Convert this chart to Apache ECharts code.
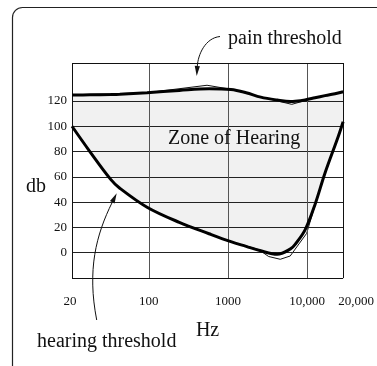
<!DOCTYPE html>
<html>
<head>
<meta charset="utf-8">
<script src="https://cdn.jsdelivr.net/npm/echarts@6/dist/echarts.min.js"></script>
<style>
  html, body { margin: 0; padding: 0; background: #fff; }
  #chart { width: 377px; height: 366px; }
</style>
</head>
<body>
<div id="chart"></div>
<script>
// Frequency samples (Hz) shared by both threshold curves
const freqHz = [10.7, 18, 33, 43, 95, 243, 577, 1090, 1700, 2600, 4200, 6180, 7080, 9450, 12600, 16850, 24750, 28600];
// Smoothed threshold curves (dB)
const hearingDb = [100, 80, 58, 51, 36, 24, 15, 8.7, 5, 1.5, -1.2, 3, 6.6, 18, 38, 62.8, 91.7, 103.6];
const painDb = [124.7, 124.8, 125, 125.2, 126.5, 128.3, 129.6, 129, 126.5, 123, 120.7, 119.5, 119.7, 120.8, 122.5, 124.2, 126.3, 127.3];
// Measured (unsmoothed) traces
const painRawHz = [10.7, 95, 545, 1090, 2450, 6420, 12600, 28600];
const painRawDb = [124.7, 126.5, 132.4, 129.2, 123.5, 117.3, 122.5, 127.3];
const hearingRawHz = [1090, 2450, 3272, 4589, 6128, 9899, 13880];
const hearingRawDb = [8.7, 2.5, -3, -5.2, -2.6, 15.3, 46.2];
// Axes
const xMin = 10.7, xMax = 28600;
const yMin = -20, yMax = 150;
const xTickLabels = ['20', '100', '1000', '10,000', '20,000'];
const xGrid = [100, 1000, 10000];
const yTicks = [0, 20, 40, 60, 80, 100, 120];

const SERIF = '"Liberation Serif", "Times New Roman", serif';
const SMOOTH = 0.35;
const zip = (xs, ys) => xs.map((x, i) => [x, ys[i]]);

const chart = echarts.init(document.getElementById('chart'), null, { renderer: 'canvas' });

// curved annotation arrow with a slim filled head at the end point
function arrow(p0, c1, c2, p3) {
  const dx = p3[0] - c2[0], dy = p3[1] - c2[1];
  const len = Math.hypot(dx, dy);
  const ux = dx / len, uy = dy / len;
  const hl = 10, hw = 2.6;
  const bx = p3[0] - ux * hl, by = p3[1] - uy * hl;
  return [
    {
      type: 'bezierCurve',
      shape: { x1: p0[0], y1: p0[1], cpx1: c1[0], cpy1: c1[1], cpx2: c2[0], cpy2: c2[1], x2: bx, y2: by },
      style: { stroke: '#111', lineWidth: 1, fill: null },
      z: 10
    },
    {
      type: 'polygon',
      shape: { points: [[p3[0], p3[1]], [bx - uy * hw, by + ux * hw], [bx + uy * hw, by - ux * hw]] },
      style: { fill: '#111' },
      z: 10
    }
  ];
}

const gridLines = [].concat(
  yTicks.map(v => ({ yAxis: v, lineStyle: { color: '#222' } })),
  xGrid.map(v => ({ xAxis: v, lineStyle: { color: '#555' } })),
  [yMin, yMax].map(v => ({ yAxis: v, lineStyle: { color: '#111' } })),
  [xMin, xMax].map(v => ({ xAxis: v, lineStyle: { color: '#111' } }))
);

const option = {
  animation: false,
  backgroundColor: '#fff',
  grid: { left: 72, right: 32, top: 63, bottom: 88, show: false },
  xAxis: {
    type: 'log',
    logBase: 10,
    min: xMin,
    max: xMax,
    name: 'Hz',
    nameLocation: 'middle',
    nameGap: 43,
    nameTextStyle: { fontFamily: SERIF, fontSize: 20, color: '#111' },
    axisLine: { show: false },
    axisTick: { show: false },
    splitLine: { show: false },
    axisLabel: {
      showMinLabel: true,
      showMaxLabel: true,
      hideOverlap: false,
      margin: 17,
      fontFamily: SERIF,
      fontSize: 13,
      color: '#111',
      formatter: function (v, i) {
        const t = xTickLabels[i] || '';
        if (i === 0) return '{first|' + t + '}';
        if (i === xTickLabels.length - 1) return '{last|' + t + '}';
        return t;
      },
      rich: {
        first: { fontFamily: SERIF, fontSize: 13, color: '#111', padding: [0, 4, 6, 0] },
        last: { fontFamily: SERIF, fontSize: 13, color: '#111', padding: [0, 0, 0, 26] }
      }
    }
  },
  yAxis: {
    type: 'value',
    min: yMin,
    max: yMax,
    interval: 20,
    axisLine: { show: false },
    axisTick: { show: false },
    splitLine: { show: false },
    axisLabel: {
      margin: 5,
      fontFamily: SERIF,
      fontSize: 13,
      color: '#111',
      formatter: v => (yTicks.indexOf(v) >= 0 ? String(v) : '')
    }
  },
  series: [
    {
      // shaded zone: grey under the pain threshold ...
      name: 'zone upper',
      type: 'line',
      data: zip(freqHz, painDb),
      smooth: SMOOTH,
      symbol: 'none',
      lineStyle: { opacity: 0 },
      areaStyle: { color: '#f1f1f1', opacity: 1, origin: 'start' },
      silent: true,
      z: 1
    },
    {
      // ... cleared again below the hearing threshold
      name: 'zone lower',
      type: 'line',
      data: zip(freqHz, hearingDb),
      smooth: SMOOTH,
      symbol: 'none',
      lineStyle: { opacity: 0 },
      areaStyle: { color: '#fff', opacity: 1, origin: 'start' },
      silent: true,
      z: 2
    },
    {
      name: 'grid',
      type: 'line',
      data: [],
      silent: true,
      z: 3,
      markLine: {
        silent: true,
        symbol: 'none',
        label: { show: false },
        animation: false,
        lineStyle: { type: 'solid', width: 1 },
        data: gridLines
      }
    },
    {
      name: 'pain trace',
      type: 'line',
      data: zip(painRawHz, painRawDb),
      symbol: 'none',
      lineStyle: { color: '#111', width: 1 },
      z: 4
    },
    {
      name: 'hearing trace',
      type: 'line',
      data: zip(hearingRawHz, hearingRawDb),
      symbol: 'none',
      lineStyle: { color: '#111', width: 1 },
      z: 4
    },
    {
      name: 'pain threshold',
      type: 'line',
      data: zip(freqHz, painDb),
      smooth: SMOOTH,
      symbol: 'none',
      lineStyle: { color: '#000', width: 3 },
      z: 5
    },
    {
      name: 'hearing threshold',
      type: 'line',
      data: zip(freqHz, hearingDb),
      smooth: SMOOTH,
      symbol: 'none',
      lineStyle: { color: '#000', width: 3 },
      z: 5
    }
  ],
  graphic: [
    {
      type: 'rect',
      shape: { x: 12.5, y: 7.5, width: 420, height: 420, r: 10 },
      style: { stroke: '#222', lineWidth: 1.2, fill: null },
      z: 0, silent: true
    },
    {
      type: 'text', left: 228, top: 29,
      style: { text: 'pain threshold', font: '20px ' + SERIF, fill: '#111' }, z: 10
    },
    {
      type: 'text', left: 168, top: 129,
      style: { text: 'Zone of Hearing', font: '20px ' + SERIF, fill: '#111' }, z: 10
    },
    {
      type: 'text', left: 26, top: 177,
      style: { text: 'db', font: '20px ' + SERIF, fill: '#111' }, z: 10
    },
    {
      type: 'text', left: 37, top: 332,
      style: { text: 'hearing threshold', font: '20px ' + SERIF, fill: '#111' }, z: 10
    },
    ...arrow([220, 36.5], [205, 38], [198, 55], [196.7, 76]),
    ...arrow([96.7, 320], [87, 270], [96, 235], [116.7, 193.3])
  ]
};

chart.setOption(option);
</script>
</body>
</html>
